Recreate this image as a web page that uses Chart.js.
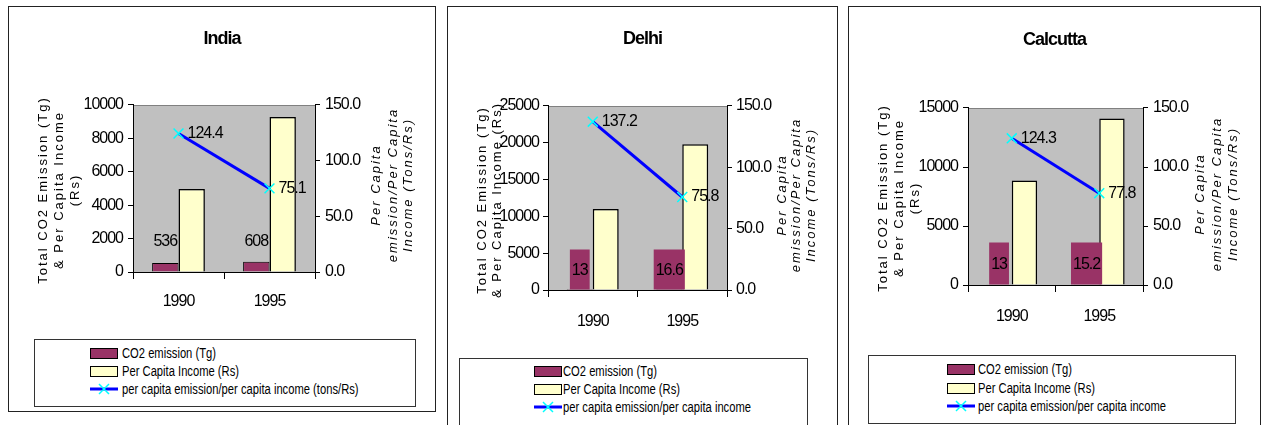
<!DOCTYPE html>
<html>
<head>
<meta charset="utf-8">
<script src="https://cdn.jsdelivr.net/npm/chart.js@4"></script>
<style>
  body { margin:0; background:#fff; width:1263px; height:425px; overflow:hidden; position:relative; }
  .panel { position:absolute; border:1px solid #222; background:#fff; overflow:hidden; }
  .panel canvas { position:absolute; left:0; top:0; }
  .legend { position:absolute; border:1px solid #333; background:#fff;
            font-family:'Liberation Sans',Arial,sans-serif; font-size:14px; color:#000; }
  .legend .row { position:absolute; height:18px; line-height:18px; white-space:nowrap; }
  .legend .sw { position:absolute; top:4px; width:26px; height:9px; border:1px solid #000; }
  .legend svg { position:absolute; top:0; }
  .legend .tx { position:absolute; transform:scaleX(0.8); transform-origin:left center; }
</style>
</head>
<body>
<div class="panel" style="left:8px;top:6px;width:426px;height:404px;"><canvas id="india" width="426" height="320"></canvas></div>
<div class="panel" style="left:447px;top:6px;width:389px;height:430px;"><canvas id="delhi" width="389" height="345"></canvas></div>
<div class="panel" style="left:848px;top:6px;width:411px;height:430px;"><canvas id="calcutta" width="411" height="340"></canvas></div>

<div class="legend" id="lg-india" style="left:34px;top:339px;width:380px;height:66px;"></div>
<div class="legend" id="lg-delhi" style="left:459px;top:358px;width:347px;height:80px;"></div>
<div class="legend" id="lg-calcutta" style="left:868px;top:355px;width:366px;height:67px;"></div>

<script>
// data
var years = ['1990', '1995'];

var indiaCO2 = [536, 608];
var indiaIncome = [4970, 9280];
var indiaRatio = [124.4, 75.1];

var delhiCO2 = [13, 16.6];
var delhiIncome = [11000, 19800];
var delhiRatio = [137.2, 75.8];

var calcuttaCO2 = [13, 15.2];
var calcuttaIncome = [8850, 14100];
var calcuttaRatio = [124.3, 77.8];

// left axis ranges
var indiaMax = 10000, indiaStep = 2000;
var delhiMax = 25000, delhiStep = 5000;
var calcuttaMax = 15000, calcuttaStep = 5000;
var ratioMax = 150, ratioStep = 50;

var arial = "'Liberation Sans',Arial,sans-serif";

Chart.defaults.color = '#000';
Chart.defaults.font.family = arial;
Chart.defaults.font.size = 16;

var decor = {
  id: 'decor',
  beforeDraw: function(chart, args, o) {
    var a = chart.chartArea, ctx = chart.ctx;
    // squeeze the text a bit, the original uses a narrow face
    ctx.letterSpacing = '-1px';
    ctx.save();
    ctx.fillStyle = '#c0c0c0';
    ctx.fillRect(a.left, a.top, a.right - a.left, a.bottom - a.top);
    ctx.strokeStyle = '#808080';
    ctx.lineWidth = 1;
    ctx.beginPath();
    ctx.moveTo(a.left, a.top + 0.5);
    ctx.lineTo(a.right, a.top + 0.5);
    ctx.stroke();
    ctx.restore();
  },
  afterDatasetsDraw: function(chart, args, o) {
    var ctx = chart.ctx;
    ctx.save();
    ctx.font = '16px ' + arial;
    ctx.fillStyle = '#000';
    // CO2 labels
    var meta = chart.getDatasetMeta(0);
    var vals = chart.data.datasets[0].data;
    meta.data.forEach(function(el, i) {
      var t = String(vals[i]);
      ctx.textAlign = 'center';
      ctx.textBaseline = 'middle';
      if (o.box) {
        var w = ctx.measureText(t).width + 4;
        ctx.fillStyle = '#993366';
        ctx.fillRect(el.x - w / 2, el.base - o.box, w, o.box);
        ctx.fillStyle = '#000';
        ctx.fillText(t, el.x, el.base - o.box / 2 + 1);
      } else {
        ctx.fillText(t, el.x, el.base - o.lift);
      }
    });
    // ratio labels
    var lm = chart.getDatasetMeta(2);
    var lv = chart.data.datasets[2].data;
    lm.data.forEach(function(pt, i) {
      ctx.textAlign = 'left';
      ctx.textBaseline = 'middle';
      ctx.fillText(lv[i].toFixed(1), pt.x + 9, pt.y);
    });
    ctx.restore();
  },
  afterDraw: function(chart, args, o) {
    var ctx = chart.ctx;
    function side(lines, xs, cy, font) {
      lines.forEach(function(s, i) {
        ctx.save();
        ctx.font = font;
        ctx.letterSpacing = '2px';
        ctx.fillStyle = '#000';
        ctx.translate(xs[i], cy);
        ctx.rotate(-Math.PI / 2);
        ctx.textAlign = 'center';
        ctx.textBaseline = 'middle';
        ctx.fillText(s, 0, 0);
        ctx.restore();
      });
    }
    side(o.left, o.leftX, o.leftY, '13px ' + arial);
    side(o.right, o.rightX, o.rightY, 'italic 13px ' + arial);
  }
};

function build(id, name, co2, income, ratio, yMax, yStep, L) {
  var W = L.w, H = L.h;
  return new Chart(document.getElementById(id), {
    type: 'bar',
    data: {
      labels: years,
      datasets: [
        { label: 'CO2 emission (Tg)', data: co2, backgroundColor: '#993366', borderColor: '#000',
          borderWidth: 1, yAxisID: 'y', order: 2 },
        { label: 'Per Capita Income (Rs)', data: income, backgroundColor: '#ffffcc', borderColor: '#000',
          borderWidth: 1.5, yAxisID: 'y', order: 2 },
        { type: 'line', label: L.lineLabel, data: ratio, yAxisID: 'y1', borderColor: '#0000ff',
          borderWidth: 3, pointStyle: 'crossRot', pointRadius: 7, pointBorderColor: '#00ffff',
          pointBorderWidth: 1.5, fill: false, order: 0 }
      ]
    },
    options: {
      responsive: false,
      animation: false,
      datasets: { bar: { barPercentage: 1, categoryPercentage: 0.58 } },
      layout: { padding: 0 },
      plugins: {
        legend: { display: false },
        tooltip: { enabled: false },
        title: { display: true, text: name, font: { size: 18, weight: 'bold', family: arial },
                 padding: { top: L.titleTop, bottom: L.top - L.titleTop - 21.6 } },
        decor: L.decor
      },
      scales: {
        x: {
          grid: { display: true, drawOnChartArea: false, drawTicks: true, tickLength: 7, color: '#000', offset: true },
          border: { color: '#000' },
          ticks: { padding: L.xPad, font: { size: 16 } },
          afterFit: function(s) { s.height = H - L.bottom; }
        },
        y: {
          position: 'left', min: 0, max: yMax,
          grid: { drawOnChartArea: false, tickLength: 5, color: '#000' },
          border: { color: '#000' },
          ticks: { stepSize: yStep, padding: L.yPad, callback: function(v) { return String(v); } },
          afterFit: function(s) { s.width = L.left; }
        },
        y1: {
          position: 'right', min: 0, max: ratioMax,
          grid: { drawOnChartArea: false, tickLength: 5, color: '#000' },
          border: { color: '#000' },
          ticks: { stepSize: ratioStep, padding: L.yPad, callback: function(v) { return v.toFixed(1); } },
          afterFit: function(s) { s.width = W - L.right; }
        }
      }
    },
    plugins: [decor]
  });
}

function legend(id, chart, swLeft, txtLeft, rows) {
  var box = document.getElementById(id);
  chart.data.datasets.forEach(function(ds, i) {
    var r = document.createElement('div');
    r.className = 'row';
    r.style.top = (rows[i] - 9) + 'px';
    r.style.left = '0px';
    if (ds.type === 'line') {
      r.innerHTML = '<svg width="30" height="18" style="left:' + swLeft + 'px">' +
        '<line x1="0" y1="9" x2="28" y2="9" stroke="#0000ff" stroke-width="3"/>' +
        '<line x1="9" y1="4" x2="19" y2="14" stroke="#00ffff" stroke-width="1.5"/>' +
        '<line x1="19" y1="4" x2="9" y2="14" stroke="#00ffff" stroke-width="1.5"/></svg>';
    } else {
      r.innerHTML = '<div class="sw" style="left:' + swLeft + 'px;background:' + ds.backgroundColor + '"></div>';
    }
    var t = document.createElement('span');
    t.className = 'tx';
    t.style.left = txtLeft + 'px';
    t.textContent = ds.label;
    r.appendChild(t);
    box.appendChild(r);
  });
}

var cIndia = build('india', 'India', indiaCO2, indiaIncome, indiaRatio, indiaMax, indiaStep, {
  w: 426, h: 320, left: 124, right: 306, top: 98, bottom: 265, titleTop: 21.2, xPad: 13, yPad: 5,
  lineLabel: 'per capita emission/per capita income (tons/Rs)',
  decor: { lift: 30, left: ['Total CO2 Emission (Tg)', '& Per Capita Income', '(Rs)'], leftX: [34, 50, 66], leftY: 183,
           right: ['Per Capita', 'emission/Per Capita', 'Income (Tons/Rs)'], rightX: [367, 384, 399], rightY: 178 }
});
var cDelhi = build('delhi', 'Delhi', delhiCO2, delhiIncome, delhiRatio, delhiMax, delhiStep, {
  w: 389, h: 345, left: 100, right: 279, top: 99, bottom: 283, titleTop: 21.2, xPad: 15, yPad: 4,
  lineLabel: 'per capita emission/per capita income',
  decor: { box: 40, left: ['Total CO2 Emission (Tg)', '& Per Capita Income (Rs)'], leftX: [34, 49], leftY: 193,
           right: ['Per Capita', 'emission/Per Capita', 'Income (Tons/Rs)'], rightX: [334, 348, 363], rightY: 188 }
});
var cCalcutta = build('calcutta', 'Calcutta', calcuttaCO2, calcuttaIncome, calcuttaRatio, calcuttaMax, calcuttaStep, {
  w: 411, h: 340, left: 119, right: 294, top: 101, bottom: 278, titleTop: 22.2, xPad: 15, yPad: 5,
  lineLabel: 'per capita emission/per capita income',
  decor: { box: 42, left: ['Total CO2 Emission (Tg)', '& Per Capita Income', '(Rs)'], leftX: [34, 50, 66], leftY: 191,
           right: ['Per Capita', 'emission/Per Capita', 'Income (Tons/Rs)'], rightX: [351, 368, 384], rightY: 187 }
});

legend('lg-india', cIndia, 55, 87, [13, 31, 49]);
legend('lg-delhi', cDelhi, 74, 103, [12, 30, 48]);
legend('lg-calcutta', cCalcutta, 78, 109, [13, 32, 50]);
</script>
</body>
</html>
